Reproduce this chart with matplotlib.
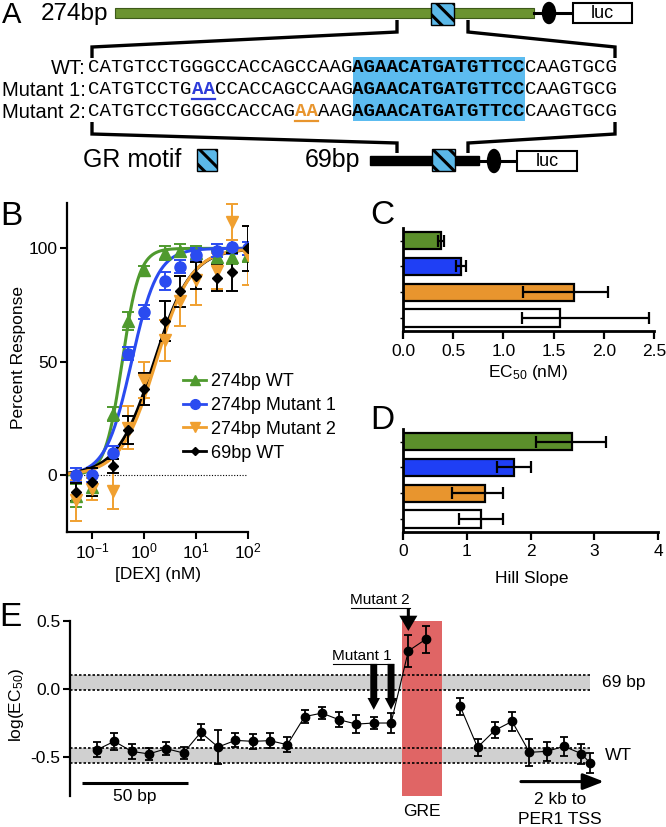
import numpy as np
import matplotlib
matplotlib.use("Agg")
import matplotlib.pyplot as plt
from matplotlib.patches import Rectangle, Ellipse, FancyArrowPatch
from matplotlib.lines import Line2D
from matplotlib.ticker import NullLocator

plt.rcParams['font.family'] = 'Liberation Sans'
plt.rcParams['mathtext.fontset'] = 'custom'
plt.rcParams['mathtext.rm'] = 'Liberation Sans'
plt.rcParams['mathtext.it'] = 'Liberation Sans:italic'
plt.rcParams['hatch.linewidth'] = 2.2
plt.rcParams['axes.linewidth'] = 1.6

W, H = 666, 827

# ---- data ----
# B: dose response
dex = [0.05, 0.1, 0.25, 0.5, 1, 2.5, 5, 10, 25, 50, 100]
wt274 = [-9, -5, 27, 68, 90.4, 98, 99, 98, 96, 96, 97]
wt274_err = [5, 4, 3, 4, 2, 3, 3, 3, 3, 3, 3]
mut1 = [0, 0, 10, 53.6, 72, 85.7, 92, 97.3, 99, 100.7, 100]
mut1_err = [3, 3, 3, 3, 3, 4, 3, 3, 3, 3, 3]
mut2 = [-11, -6, -7, 21, 42, 59.5, 77, 86, 90, 111.7, 97]
mut2_err = [9, 5, 8, 9.5, 8, 9, 11, 11, 8, 8, 13]
wt69 = [-7.5, -3, 4, 20, 38, 68, 81, 88, 87, 89.6, 100]
wt69_err = [4, 6, 3, 6, 7, 9, 7, 6, 6, 8.5, 10]

series_names = ["274bp WT", "274bp Mutant 1", "274bp Mutant 2", "69bp WT"]

# C: EC50 (nM), D: Hill slope  (order: 274 WT, Mut1, Mut2, 69 WT)
ec50 = [0.38, 0.575, 1.70, 1.565]
ec50_lo = [0.35, 0.53, 1.20, 1.19]
ec50_hi = [0.41, 0.63, 2.04, 2.45]
hill = [2.65, 1.74, 1.28, 1.22]
hill_lo = [2.09, 1.47, 0.77, 0.88]
hill_hi = [3.18, 2.01, 1.57, 1.57]

# E: scanning mutagenesis, position (bp) and log(EC50)
pos_a = [0, 8, 16, 24, 32, 40, 48, 56, 64, 72, 80, 88, 96, 104, 112, 120, 128, 136, 144, 152]
log_a = [-0.449, -0.387, -0.461, -0.480, -0.441, -0.473, -0.321, -0.429, -0.380, -0.387,
         -0.382, -0.412, -0.205, -0.179, -0.228, -0.260, -0.252, -0.252, 0.279, 0.365]
err_a = [0.055, 0.064, 0.053, 0.043, 0.049, 0.044, 0.059, 0.123, 0.051, 0.053,
         0.055, 0.055, 0.047, 0.044, 0.055, 0.064, 0.047, 0.074, 0.119, 0.100]
pos_b = [168, 176, 184, 192, 200, 208, 216, 224, 228]
log_b = [-0.130, -0.431, -0.306, -0.240, -0.468, -0.461, -0.424, -0.478, -0.546]
err_b = [0.061, 0.064, 0.058, 0.069, 0.098, 0.070, 0.069, 0.075, 0.074]
band_69 = (-0.005, 0.105)
band_wt = (-0.545, -0.435)
gre = (141, 159.5)

c_green, c_blue, c_orange = '#5b8f2b', '#1f3ff5', '#e8952e'
cb_green, cb_blue, cb_orange = '#4f9a2e', '#2a4bf0', '#f0a030'

fig = plt.figure(figsize=(W / 100, H / 100), dpi=100)


def px_axes(l, t, r, b):
    return fig.add_axes([l / W, 1 - b / H, (r - l) / W, (b - t) / H])


def ftext(x, y, s, **kw):
    fig.text(x / W, 1 - y / H, s, **kw)


# ---------------- Panel A (diagram) ----------------
axA = px_axes(0, 0, 666, 190)
axA.set_xlim(0, 666)
axA.set_ylim(190, 0)
axA.axis('off')


def gr_box(x, y, w, h):
    axA.add_patch(Rectangle((x, y), w, h, facecolor='#5bb8e8', edgecolor='k',
                            hatch='\\\\', lw=1.0, zorder=5))


def luc_box(x, y, w, h):
    axA.add_patch(Rectangle((x, y), w, h, facecolor='white', edgecolor='k', lw=1.5, zorder=4))
    axA.text(x + w / 2, y + h / 2 + 1, 'luc', ha='center', va='center', fontsize=13, zorder=6)


# top construct
axA.add_patch(Rectangle((115, 8), 419, 10, facecolor='#6b9330', edgecolor='#3d5a1a', lw=0.8, zorder=3))
axA.plot([534, 573], [13, 13], color='k', lw=2.2, zorder=3)
axA.add_patch(Ellipse((549, 13), 13, 21, color='k', zorder=4))
luc_box(573, 3, 59, 20)
gr_box(431, 3, 23, 22)

bkw = dict(color='k', lw=2.4, solid_joinstyle='miter', solid_capstyle='butt')
axA.plot([397, 397, 92, 92], [20, 32, 47, 58], **bkw)
axA.plot([468, 468, 615, 615], [20, 32, 47, 58], **bkw)
axA.plot([92, 92, 397, 397], [122, 134, 143, 153], **bkw)
axA.plot([615, 615, 468, 468], [122, 134, 143, 153], **bkw)

# sequences
x0, cw, fs_seq = 88, 11.5, 13.8
axA.add_patch(Rectangle((x0 + 23 * cw, 57), 15 * cw, 64, facecolor='#5cbcf0', lw=0, zorder=1))
rows = [
    ("WT:", 68, [("CATGTCCTGGGCCACCAGCCAAG", 'normal', 'k'), ("AGAACATGATGTTCC", 'bold', 'k'),
                 ("CAAGTGCG", 'normal', 'k')]),
    ("Mutant 1:", 90, [("CATGTCCTG", 'normal', 'k'), ("AA", 'bold', '#2d3bd9'),
                       ("CCACCAGCCAAG", 'normal', 'k'), ("AGAACATGATGTTCC", 'bold', 'k'),
                       ("CAAGTGCG", 'normal', 'k')]),
    ("Mutant 2:", 112, [("CATGTCCTGGGCCACCAG", 'normal', 'k'), ("AA", 'bold', c_orange),
                        ("AAG", 'normal', 'k'), ("AGAACATGATGTTCC", 'bold', 'k'),
                        ("CAAGTGCG", 'normal', 'k')]),
]
for label, yy, segs in rows:
    axA.text(86, yy, label, ha='right', va='center', fontsize=14.5, zorder=6)
    i = 0
    for s, wgt, col in segs:
        axA.text(x0 + i * cw, yy, s, ha='left', va='center', family='Liberation Mono',
                 fontsize=fs_seq, weight=wgt, color=col, zorder=6)
        if col != 'k':
            axA.plot([x0 + i * cw, x0 + (i + len(s)) * cw], [yy + 9, yy + 9], color=col, lw=1.6)
        i += len(s)

# bottom construct
ftext(11.5, 1, 'A', ha='center', va='top', fontsize=21)
axA.text(41, 14, '274bp', ha='left', va='center', fontsize=17.5)
axA.text(83, 160, 'GR motif', ha='left', va='center', fontsize=18)
gr_box(197, 149, 20, 22)
axA.text(305, 160, '69bp', ha='left', va='center', fontsize=18)
axA.add_patch(Rectangle((370, 156), 109, 9, color='k', zorder=3))
axA.plot([479, 517], [161, 161], color='k', lw=2.2, zorder=3)
axA.add_patch(Ellipse((494, 161), 13, 23, color='k', zorder=4))
gr_box(432, 149, 23, 22)
luc_box(517, 151, 60, 20)

# ---------------- Panel B ----------------
axB = px_axes(67, 203, 248, 532)
axB.set_xscale('log')
axB.set_xlim(0.033, 100)
axB.set_ylim(-25, 120)
for s in ('top', 'right'):
    axB.spines[s].set_visible(False)
axB.axhline(0, color='k', lw=0.8, ls=(0, (1, 1.5)), zorder=1)

xs = np.logspace(np.log10(0.033), 2, 300)
vals = [wt274, mut1, mut2, wt69]
errs = [wt274_err, mut1_err, mut2_err, wt69_err]
cols = [cb_green, cb_blue, cb_orange, 'k']
marks = ['^', 'o', 'v', 'D']
msz = [8, 8, 8, 5]
handles = []
for k in (0, 1, 3, 2):
    fit = 100.0 / (1.0 + (ec50[k] / xs) ** hill[k])
    axB.plot(xs, fit, color=cols[k], lw=2.2, zorder=2)
for k in range(4):
    axB.errorbar(dex, vals[k], yerr=errs[k], fmt=marks[k], color=cols[k], ms=msz[k],
                 capsize=4.5, elinewidth=1.4, capthick=1.4, zorder=3)
    handles.append(Line2D([], [], color=cols[k], marker=marks[k], ms=msz[k] - 1, lw=2))
axB.set_xticks([0.1, 1, 10, 100])
axB.set_xticklabels([r'$10^{-1}$', r'$10^{0}$', r'$10^{1}$', r'$10^{2}$'])
axB.xaxis.set_minor_locator(NullLocator())
axB.set_yticks([0, 50, 100])
axB.tick_params(labelsize=12.5, width=1.5, length=5, pad=2)
axB.legend(handles, series_names, loc='upper left', bbox_to_anchor=(183 / W, 1 - 373 / H),
           bbox_transform=fig.transFigure, frameon=False, fontsize=13, handlelength=1.3,
           handletextpad=0.25, labelspacing=0.38, borderpad=0, borderaxespad=0)
ftext(11, 216, 'B', ha='center', va='center', fontsize=24)
ftext(19, 358, 'Percent Response', ha='center', va='center', rotation=90, fontsize=12.5)
ftext(158, 575, '[DEX] (nM)', ha='center', va='center', fontsize=12.5)

# ---------------- Panels C and D ----------------
bar_cols = [c_green, c_blue, c_orange, 'white']
ypos = [0, 1, 2, 3]


def bar_panel(ax, v, lo, hi, xmax, ticks, labels):
    ax.barh(ypos, v, height=0.68, color=bar_cols, edgecolor='k', lw=1.6, zorder=2)
    ax.errorbar(v, ypos, xerr=[np.subtract(v, lo), np.subtract(hi, v)], fmt='none',
                ecolor='k', elinewidth=1.6, capsize=4, capthick=1.6, zorder=3)
    ax.set_ylim(3.5, -0.49)
    ax.set_xlim(0, xmax)
    ax.set_yticks(ypos)
    ax.set_yticklabels([])
    ax.tick_params(axis='y', length=2, width=1)
    ax.set_xticks(ticks)
    ax.set_xticklabels(labels)
    ax.tick_params(axis='x', labelsize=12.5, width=1.6, length=6, pad=3)
    for s in ('top', 'right'):
        ax.spines[s].set_visible(False)
    ax.spines['left'].set_linewidth(2)
    ax.spines['bottom'].set_linewidth(2)


axC = px_axes(403, 228, 654, 331)
bar_panel(axC, ec50, ec50_lo, ec50_hi, 2.5, [0, 0.5, 1, 1.5, 2, 2.5],
          ['0.0', '0.5', '1.0', '1.5', '2.0', '2.5'])
ftext(382, 215, 'C', ha='center', va='center', fontsize=24)
ftext(528, 372, r'EC$_{50}$ (nM)', ha='center', va='center', fontsize=12.5)

axD = px_axes(403, 429, 658, 532)
bar_panel(axD, hill, hill_lo, hill_hi, 4, [0, 1, 2, 3, 4], ['0', '1', '2', '3', '4'])
ftext(382, 421, 'D', ha='center', va='center', fontsize=24)
ftext(532, 579, 'Hill Slope', ha='center', va='center', fontsize=12.5)

# ---------------- Panel E ----------------
axE = px_axes(70, 621, 620, 796)
xl = (-12.5, 241.9)
axE.set_xlim(*xl)
axE.set_ylim(-0.79, 0.5)
for s in ('top', 'right', 'bottom'):
    axE.spines[s].set_visible(False)
axE.set_xticks([])
axE.set_yticks([-0.5, 0, 0.5])
axE.set_yticklabels(['-0.5', '0.0', '0.5'])
axE.tick_params(axis='y', labelsize=12.5, width=1.5, length=5, pad=2)

band_end = pos_b[-1]
for lo, hi in (band_69, band_wt):
    axE.fill_between([xl[0], band_end], lo, hi, color='#d0d0d0', lw=0, zorder=0)
    axE.hlines([lo, hi], xl[0], band_end, colors='k', linestyles=(0, (1.5, 1.2)), lw=1.2, zorder=1)
axE.axvspan(gre[0], gre[1], color='#e06565', lw=0, zorder=0.5)

for p, v, e in ((pos_a, log_a, err_a), (pos_b, log_b, err_b)):
    axE.errorbar(p, v, yerr=e, fmt='-o', color='k', lw=0.8, ms=6, elinewidth=1.3,
                 capsize=3, capthick=1.3, zorder=3)


def bx(px):
    return (px - 97) / 2.1625


def by(py):
    return (689 - py) / 136.0


def down_arrow(x, y0, y1, tw, hw, hl):
    axE.add_patch(FancyArrowPatch((x, y0), (x, y1), arrowstyle=f'simple,tail_width={tw},head_width={hw},head_length={hl}',
                                  mutation_scale=10, color='k', lw=0, zorder=5, clip_on=False,
                                  shrinkA=0, shrinkB=0))


# mutant arrows
down_arrow(pos_a[16], by(664), by(710), 0.5, 0.9, 0.85)
down_arrow(pos_a[17], by(664), by(710), 0.5, 0.9, 0.85)
axE.plot([bx(333), bx(393)], [by(664), by(664)], color='k', lw=0.8, clip_on=False)
axE.text(bx(362), by(656), 'Mutant 1', ha='center', va='center', fontsize=11)
down_arrow(pos_a[18], by(608), by(631), 0.22, 1.3, 1.1)
axE.plot([bx(351), bx(410)], [by(608), by(608)], color='k', lw=0.8, clip_on=False)
axE.text(bx(380), by(600), 'Mutant 2', ha='center', va='center', fontsize=11)

# scale bar and TSS arrow
axE.plot([bx(82), bx(188)], [by(783), by(783)], color='k', lw=2.2, solid_capstyle='butt', clip_on=False)
axE.annotate('', xy=(bx(604), by(782)), xytext=(bx(521), by(782)),
             arrowprops=dict(arrowstyle='-|>,head_length=0.9,head_width=0.35', lw=2.2, color='k',
                             mutation_scale=14, shrinkA=0, shrinkB=0), annotation_clip=False)

ftext(10, 618, 'E', ha='center', va='center', fontsize=24)
ftext(16, 705, r'log(EC$_{50}$)', ha='center', va='center', rotation=90, fontsize=12.5)
ftext(602, 682, '69 bp', ha='left', va='center', fontsize=12.5)
ftext(605, 755, 'WT', ha='left', va='center', fontsize=12.5)
ftext(422, 811, 'GRE', ha='center', va='center', fontsize=12.5)
ftext(135, 797, '50 bp', ha='center', va='center', fontsize=12.5)
ftext(560, 800, '2 kb to', ha='center', va='center', fontsize=12.5)
ftext(560, 819, 'PER1 TSS', ha='center', va='center', fontsize=12.5)

fig.savefig('out.png', dpi=100)
